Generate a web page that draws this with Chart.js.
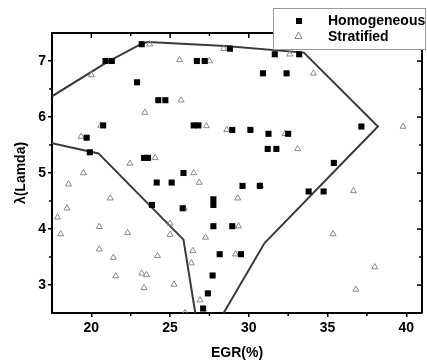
<!DOCTYPE html>
<html>
<head>
<meta charset="utf-8">
<script src="https://cdn.jsdelivr.net/npm/chart.js@4.4.1/dist/chart.umd.min.js"></script>
<style>
  body { margin: 0; background: #fff; }
  canvas { display: block; }
</style>
</head>
<body>
<canvas id="myChart" width="427" height="360"></canvas>
<script>
// values
var homogeneousX = [20.9, 21.3, 23.2, 22.9, 24.25, 24.7, 26.7, 27.2, 20.75, 19.7, 19.9, 26.5, 26.8,
    23.35, 23.6, 25.85, 24.15, 25.1, 23.85, 25.8, 27.75, 27.75, 27.75, 28.95, 28.15, 29.5, 27.7,
    27.4, 27.1, 28.8, 31.65, 33.2, 30.9, 32.4, 28.95, 30.1, 31.25, 32.5, 31.2, 31.75, 37.15, 35.4,
    29.6, 30.7, 33.8, 34.75];
var homogeneousY = [7.0, 7.0, 7.3, 6.62, 6.3, 6.3, 7.0, 7.0, 5.85, 5.63, 5.37, 5.85, 5.85,
    5.27, 5.27, 5.0, 4.83, 4.83, 4.43, 4.37, 4.53, 4.43, 4.05, 4.05, 3.55, 3.55, 3.17,
    2.85, 2.58, 7.22, 7.12, 7.12, 6.78, 6.78, 5.77, 5.77, 5.7, 5.7, 5.43, 5.43, 5.83, 5.18,
    4.77, 4.77, 4.67, 4.67];

var stratifiedX = [20.0, 23.4, 25.7, 25.6, 27.5, 19.35, 20.6, 27.3, 23.7, 24.05, 22.45, 26.5, 19.5,
    26.85, 18.55, 21.2, 18.45, 17.85, 18.05, 20.5, 22.3, 20.5, 21.4, 21.55, 23.2, 23.5, 23.35,
    25.25, 24.2, 25.0, 25.0, 26.45, 26.35, 27.25, 26.9, 25.95, 25.9, 28.4, 32.6, 34.1, 28.6,
    32.3, 33.1, 39.8, 29.3, 30.75, 36.65, 29.35, 29.15, 35.35, 38.0, 36.8];
var stratifiedY = [6.75, 6.08, 6.3, 7.02, 7.0, 5.65, 5.85, 5.84, 7.3, 5.27, 5.17, 5.0, 5.0,
    4.83, 4.8, 4.55, 4.37, 4.21, 3.91, 4.04, 3.93, 3.64, 3.49, 3.16, 3.21, 3.18, 2.95,
    3.01, 3.52, 4.1, 3.9, 3.61, 3.39, 3.85, 2.73, 2.5, 4.37, 7.22, 7.12, 6.78, 5.77,
    5.7, 5.43, 5.83, 4.55, 4.77, 4.68, 4.05, 3.55, 3.91, 3.32, 2.92];

// boundary lines drawn around the homogeneous region
var upperBoundX = [17.5, 21.0, 23.2, 23.6, 28.5, 33.5, 38.2, 31.0, 28.4];
var upperBoundY = [6.37, 6.98, 7.31, 7.34, 7.27, 7.15, 5.83, 3.75, 2.5];
var lowerBoundX = [17.5, 20.45, 25.85, 26.6];
var lowerBoundY = [5.53, 5.35, 3.81, 2.5];

var xTicks = [20, 25, 30, 35, 40];
var xMinorTicks = [22.5, 27.5, 32.5, 37.5];
var yTicks = [3, 4, 5, 6, 7];
var yMinorTicks = [3.5, 4.5, 5.5, 6.5];

function toPoints(xs, ys) {
    return xs.map(function (x, i) { return { x: x, y: ys[i] }; });
}

var boldFont = { family: "Arial, 'Liberation Sans', sans-serif", size: 14, weight: 'bold' };

// frame on top/right plus minor ticks
var framePlugin = {
    id: 'frame',
    afterDatasetsDraw: function (chart) {
        var ctx = chart.ctx, a = chart.chartArea;
        var xs = chart.scales.x, ys = chart.scales.y;
        ctx.save();
        ctx.strokeStyle = '#000';
        ctx.lineWidth = 2;
        ctx.beginPath();
        ctx.moveTo(a.left, a.top);
        ctx.lineTo(a.right, a.top);
        ctx.lineTo(a.right, a.bottom);
        ctx.stroke();
        ctx.lineWidth = 1.5;
        ctx.beginPath();
        xTicks.forEach(function (v) {
            var p = xs.getPixelForValue(v);
            ctx.moveTo(p, a.top); ctx.lineTo(p, a.top + 5);
        });
        xMinorTicks.forEach(function (v) {
            var p = xs.getPixelForValue(v);
            ctx.moveTo(p, a.top); ctx.lineTo(p, a.top + 3);
            ctx.moveTo(p, a.bottom); ctx.lineTo(p, a.bottom + 3);
        });
        yTicks.forEach(function (v) {
            var p = ys.getPixelForValue(v);
            ctx.moveTo(a.right, p); ctx.lineTo(a.right - 5, p);
        });
        yMinorTicks.forEach(function (v) {
            var p = ys.getPixelForValue(v);
            ctx.moveTo(a.right, p); ctx.lineTo(a.right - 3, p);
            ctx.moveTo(a.left, p); ctx.lineTo(a.left - 3, p);
        });
        ctx.stroke();
        ctx.restore();
    }
};

// boxed legend sitting over the top right corner
var boxLegendPlugin = {
    id: 'boxLegend',
    afterDraw: function (chart) {
        var ctx = chart.ctx;
        var left = 273, top = 8, right = 426, bottom = 50;
        ctx.save();
        ctx.fillStyle = '#fff';
        ctx.fillRect(left, top, right - left, bottom - top);
        ctx.setLineDash([1, 1]);
        ctx.strokeStyle = '#333';
        ctx.lineWidth = 1;
        ctx.strokeRect(left + 0.5, top + 0.5, right - left - 1, bottom - top - 1);
        ctx.setLineDash([]);

        ctx.fillStyle = '#000';
        ctx.fillRect(296, 18, 6, 6);

        ctx.strokeStyle = '#888';
        ctx.beginPath();
        ctx.moveTo(298.5, 32);
        ctx.lineTo(302, 38.5);
        ctx.lineTo(295, 38.5);
        ctx.closePath();
        ctx.stroke();

        ctx.font = 'bold 14px Arial, "Liberation Sans", sans-serif';
        ctx.textBaseline = 'middle';
        ctx.fillStyle = '#000';
        ctx.fillText(chart.data.datasets[0].label, 328, 21);
        ctx.fillText(chart.data.datasets[1].label, 328, 37);
        ctx.restore();
    }
};

var ctx = document.getElementById('myChart').getContext('2d');
var chart = new Chart(ctx, {
    type: 'scatter',
    data: {
        datasets: [{
            label: 'Homogeneous',
            data: toPoints(homogeneousX, homogeneousY),
            pointStyle: 'rect',
            pointRadius: 4.3,
            backgroundColor: '#000',
            borderColor: '#000',
            borderWidth: 0
        }, {
            label: 'Stratified',
            data: toPoints(stratifiedX, stratifiedY),
            pointStyle: 'triangle',
            pointRadius: 3.5,
            backgroundColor: 'rgba(255,255,255,0)',
            borderColor: '#8a8a8a',
            borderWidth: 1
        }, {
            label: 'upper boundary',
            data: toPoints(upperBoundX, upperBoundY),
            showLine: true,
            pointRadius: 0,
            borderColor: '#3a3a3a',
            borderWidth: 2,
            tension: 0
        }, {
            label: 'lower boundary',
            data: toPoints(lowerBoundX, lowerBoundY),
            showLine: true,
            pointRadius: 0,
            borderColor: '#3a3a3a',
            borderWidth: 2,
            tension: 0
        }]
    },
    options: {
        responsive: false,
        animation: false,
        devicePixelRatio: 1,
        layout: { padding: { top: 33, right: 5, left: 0, bottom: 0 } },
        plugins: {
            legend: { display: false },
            tooltip: { enabled: false }
        },
        scales: {
            x: {
                type: 'linear',
                position: 'bottom',
                min: 17.5,
                max: 41,
                afterBuildTicks: function (s) { s.ticks = xTicks.map(function (v) { return { value: v }; }); },
                afterFit: function (s) { s.height = 47; },
                grid: { drawOnChartArea: false, tickLength: 4, color: '#000', lineWidth: 1.5 },
                border: { color: '#000', width: 2 },
                ticks: { font: boldFont, color: '#000', padding: 3, maxRotation: 0 },
                title: { display: true, text: 'EGR(%)', font: { family: boldFont.family, size: 14, weight: 'bold', lineHeight: 1 }, color: '#000', padding: 0 }
            },
            y: {
                type: 'linear',
                min: 2.5,
                max: 7.5,
                afterBuildTicks: function (s) { s.ticks = yTicks.map(function (v) { return { value: v }; }); },
                afterFit: function (s) { s.width = 52; },
                grid: { drawOnChartArea: false, tickLength: 4, color: '#000', lineWidth: 1.5 },
                border: { color: '#000', width: 2 },
                ticks: { font: boldFont, color: '#000', padding: 2 },
                title: { display: true, text: 'λ(Lamda)', font: { family: boldFont.family, size: 14, weight: 'bold', lineHeight: 1 }, color: '#000', padding: { top: 14, bottom: 0 } }
            }
        }
    },
    plugins: [framePlugin, boxLegendPlugin]
});
</script>
</body>
</html>
